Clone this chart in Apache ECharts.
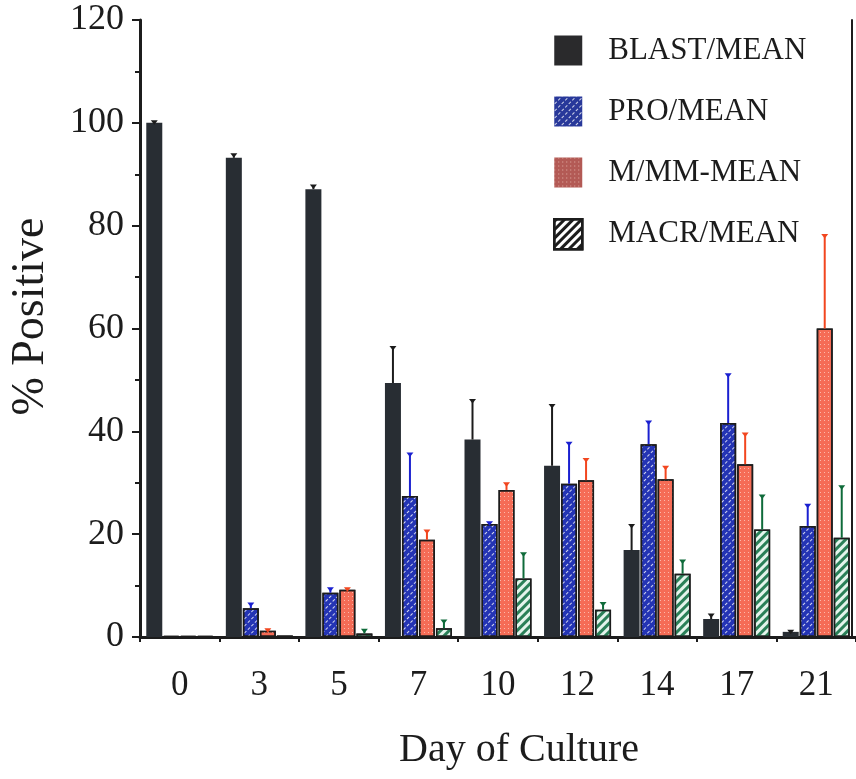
<!DOCTYPE html>
<html>
<head>
<meta charset="utf-8">
<script src="https://cdn.jsdelivr.net/npm/echarts@6/dist/echarts.min.js"></script>
<style>
  html, body { margin: 0; padding: 0; background: #fff; }
  #chart { width: 856px; height: 779px; }
</style>
</head>
<body>
<div id="chart"></div>
<script>
// Day of culture (categories)
const days = ['0', '3', '5', '7', '10', '12', '14', '17', '21'];

// Mean % positive per cell type
const blast = [100, 93.2, 87.1, 49.4, 38.4, 33.3, 16.9, 3.5, 1.0];
const pro   = [0.2, 5.6, 8.6, 27.4, 22.0, 29.8, 37.5, 41.6, 21.6];
const mm    = [0.2, 1.2, 9.2, 18.9, 28.6, 30.5, 30.7, 33.6, 60.0];
const macr  = [0.2, 0.3, 0.7, 1.7, 11.4, 5.3, 12.3, 20.9, 19.3];

// Upper error (added to the mean)
const blastErr = [0.3, 0.7, 0.7, 7.0, 7.7, 11.8, 4.9, 0.9, 0.2];
const proErr   = [0, 0.9, 0.9, 8.3, 0.3, 8.0, 4.4, 9.5, 4.1];
const mmErr    = [0, 0.3, 0.3, 1.8, 1.3, 4.1, 2.4, 6.0, 18.2];
const macrErr  = [0, 0, 0.7, 1.5, 4.9, 1.3, 2.6, 6.6, 10.0];

const yTicks = [0, 20, 40, 60, 80, 100, 120];

const FONT = "'Liberation Serif', 'Times New Roman', serif";
const BAR_W = 16;
const BAR_GAP = 1;
const INK = '#1c1c1c';

function errData(means, errs) {
  return means.map((m, i) => [i, m, m + errs[i], errs[i]]);
}

// Upward error whisker with a small cap, placed over bar `slot` of each group
function errRenderer(slot, color) {
  return function (params, api) {
    if (api.value(3) <= 0) return { type: 'group', children: [] };
    const idx = api.value(0);
    const base = api.coord([idx, api.value(1)]);
    const top = api.coord([idx, api.value(2)]);
    const x = base[0] + (slot - 1.5) * (BAR_W + BAR_GAP);
    return {
      type: 'group',
      children: [
        { type: 'line', shape: { x1: x, y1: base[1], x2: x, y2: top[1] },
          style: { stroke: color, lineWidth: 2 } },
        { type: 'polygon', shape: { points: [[x - 3.5, top[1] - 1], [x + 3.5, top[1] - 1], [x, top[1] + 3.5]] },
          style: { fill: color } }
      ]
    };
  };
}

const proDecal = { symbol: 'rect', symbolSize: 1, color: 'rgba(255,255,255,0.8)',
  dashArrayX: [3, 2], dashArrayY: [1, 4], rotation: -Math.PI / 4 };
const mmDecal = { symbol: 'rect', symbolSize: 1, color: 'rgba(255,226,215,0.65)',
  dashArrayX: [1, 3], dashArrayY: [1, 3], rotation: 0 };
const macrDecal = { symbol: 'rect', symbolSize: 1, color: '#2a8058',
  dashArrayX: [1, 0], dashArrayY: [3, 3], rotation: -Math.PI / 4 };

const chart = echarts.init(document.getElementById('chart'), null, { renderer: 'canvas' });

chart.setOption({
  backgroundColor: '#fff',
  animation: false,
  grid: { left: 139, top: 20, width: 720, height: 617, containLabel: false },
  legend: {
    orient: 'vertical', left: 548, top: 30,
    itemWidth: 28, itemHeight: 30, itemGap: 30,
    icon: 'rect',
    selectedMode: false,
    textStyle: { fontFamily: FONT, fontSize: 31, color: INK, lineHeight: 30, padding: [0, 0, 0, 21] },
    data: [
      { name: 'BLAST/MEAN', itemStyle: { color: '#2a2a2c', borderWidth: 0 } },
      { name: 'PRO/MEAN', itemStyle: { color: '#28389a', borderWidth: 0,
          decal: { symbol: 'rect', symbolSize: 1, color: 'rgba(255,255,255,0.8)', dashArrayX: [3, 2], dashArrayY: [1, 4], rotation: -Math.PI / 4 } } },
      { name: 'M/MM-MEAN', itemStyle: { color: '#b35a55', borderWidth: 0 } },
      { name: 'MACR/MEAN', itemStyle: { color: '#ffffff', borderColor: INK, borderWidth: 2.5,
          decal: { symbol: 'rect', symbolSize: 1, color: INK, dashArrayX: [1, 0], dashArrayY: [3, 3], rotation: -Math.PI / 4 } } }
    ]
  },
  xAxis: [
    {
      type: 'category', data: days, position: 'bottom',
      axisLine: { lineStyle: { color: INK, width: 3 } },
      axisTick: { show: true, length: 5, lineStyle: { color: INK, width: 2 } },
      axisLabel: { fontFamily: FONT, fontSize: 35, color: INK, margin: 31 },
      name: 'Day of Culture', nameLocation: 'middle', nameGap: 93,
      nameTextStyle: { fontFamily: FONT, fontSize: 40, color: INK, padding: [0, 0, 0, 42] }
    },
    {
      type: 'category', data: days, position: 'top',
      axisLine: { lineStyle: { color: INK, width: 2 } },
      axisTick: { show: false }, axisLabel: { show: false }
    }
  ],
  yAxis: [
    {
      type: 'value', min: 0, max: 120, interval: 20,
      axisLine: { show: true, lineStyle: { color: INK, width: 3 } },
      axisTick: { show: true, length: 8, lineStyle: { color: INK, width: 2 } },
      minorTick: { show: true, splitNumber: 2, length: 5, lineStyle: { color: INK, width: 2 } },
      splitLine: { show: false },
      axisLabel: { fontFamily: FONT, fontSize: 36, color: INK, margin: 16,
        formatter: v => (yTicks.indexOf(v) >= 0 ? String(v) : '') },
      name: '% Positive', nameLocation: 'middle', nameGap: 86, nameRotate: 90,
      nameTextStyle: { fontFamily: FONT, fontSize: 46, color: INK, padding: [0, 0, 0, 24] }
    },
    {
      type: 'value', min: 0, max: 120, position: 'right', offset: -4,
      axisLine: { show: true, lineStyle: { color: INK, width: 2 } },
      axisTick: { show: false }, axisLabel: { show: false }, splitLine: { show: false }
    }
  ],
  series: [
    { name: 'BLAST/MEAN', type: 'bar', data: blast, barWidth: BAR_W, barGap: (BAR_GAP / BAR_W * 100) + '%',
      itemStyle: { color: '#282d33' } },
    { name: 'PRO/MEAN', type: 'bar', data: pro, barWidth: BAR_W,
      itemStyle: { color: '#2434b4', borderColor: INK, borderWidth: 1.5, decal: proDecal } },
    { name: 'M/MM-MEAN', type: 'bar', data: mm, barWidth: BAR_W,
      itemStyle: { color: '#f56c56', borderColor: INK, borderWidth: 1.5, decal: mmDecal } },
    { name: 'MACR/MEAN', type: 'bar', data: macr, barWidth: BAR_W,
      itemStyle: { color: '#e4f4ec', borderColor: INK, borderWidth: 1.5, decal: macrDecal } },

    { name: 'blast-err', type: 'custom', renderItem: errRenderer(0, '#1c1c1c'),
      data: errData(blast, blastErr), encode: { x: 0, y: [1, 2] }, z: 5 },
    { name: 'pro-err', type: 'custom', renderItem: errRenderer(1, '#1a20d0'),
      data: errData(pro, proErr), encode: { x: 0, y: [1, 2] }, z: 5 },
    { name: 'mm-err', type: 'custom', renderItem: errRenderer(2, '#f2461f'),
      data: errData(mm, mmErr), encode: { x: 0, y: [1, 2] }, z: 5 },
    { name: 'macr-err', type: 'custom', renderItem: errRenderer(3, '#0f6b3a'),
      data: errData(macr, macrErr), encode: { x: 0, y: [1, 2] }, z: 5 }
  ]
});
</script>
</body>
</html>
